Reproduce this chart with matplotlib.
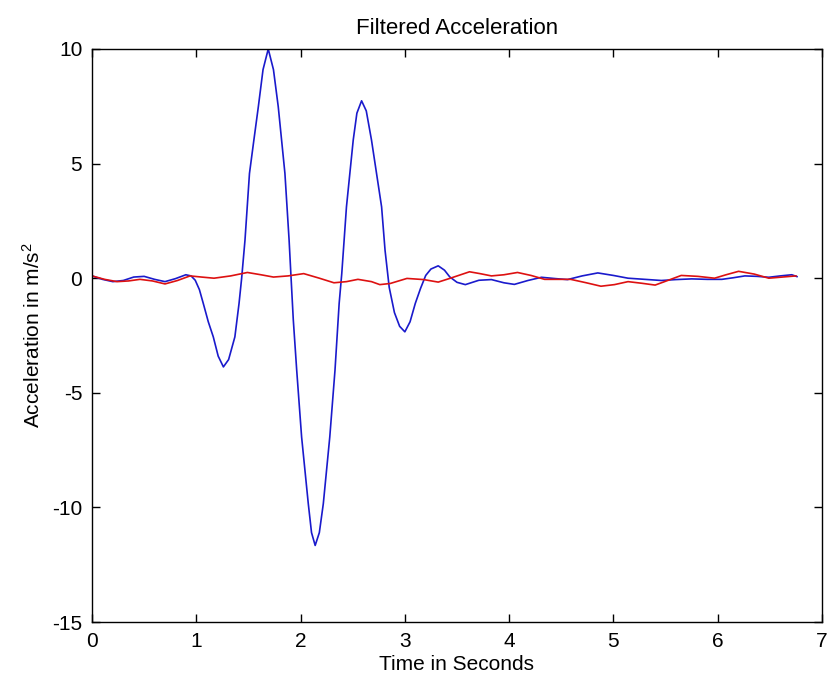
import matplotlib
matplotlib.use("Agg")
import matplotlib.pyplot as plt

# ── Data ────────────────────────────────────────────────────────────────────
t_blue = [0.00, 0.10, 0.20, 0.30, 0.40, 0.50, 0.60, 0.70, 0.80, 0.90, 0.95,
          0.99, 1.03, 1.067, 1.115, 1.163, 1.21, 1.26, 1.31, 1.37, 1.41,
          1.435, 1.467, 1.51, 1.55, 1.595, 1.64, 1.69, 1.74, 1.786, 1.85,
          1.89, 1.905, 1.93, 1.963, 2.01, 2.074, 2.105, 2.14, 2.18, 2.218,
          2.28, 2.33, 2.37, 2.395, 2.44, 2.505, 2.54, 2.585, 2.63, 2.68,
          2.777, 2.81, 2.85, 2.90, 2.95, 3.00, 3.05, 3.10, 3.15, 3.20, 3.25,
          3.32, 3.38, 3.43, 3.50, 3.58, 3.71, 3.83, 3.95, 4.05, 4.18, 4.31,
          4.45, 4.56, 4.70, 4.85, 5.00, 5.14, 5.30, 5.46, 5.60, 5.75, 5.90,
          6.04, 6.15, 6.26, 6.38, 6.49, 6.60, 6.71, 6.76]
a_blue = [0.10, -0.05, -0.15, -0.10, 0.05, 0.08, -0.05, -0.15, -0.02, 0.15, 0.10,
          -0.09, -0.50, -1.10, -1.90, -2.56, -3.40, -3.87, -3.55, -2.56, -1.10,
          0.00, 1.66, 4.57, 5.95, 7.48, 9.10, 10.00, 9.10, 7.48, 4.57,
          1.66, 0.35, -1.80, -4.02, -6.93, -9.84, -11.10, -11.66, -11.10, -9.84,
          -6.93, -4.02, -1.10, 0.20, 3.11, 6.03, 7.20, 7.74, 7.30, 6.03,
          3.11, 1.22, -0.40, -1.50, -2.10, -2.34, -1.90, -1.10, -0.45, 0.12, 0.40,
          0.54, 0.35, 0.06, -0.18, -0.28, -0.09, -0.06, -0.20, -0.27, -0.10, 0.04,
          -0.02, -0.06, 0.10, 0.23, 0.12, 0.00, -0.05, -0.10, -0.06, -0.03, -0.05,
          -0.05, 0.02, 0.10, 0.08, 0.04, 0.10, 0.15, 0.07]

t_red = [0.00, 0.12, 0.24, 0.35, 0.46, 0.58, 0.70, 0.82, 0.94, 1.05, 1.17,
         1.33, 1.49, 1.62, 1.74, 1.88, 2.03, 2.18, 2.32, 2.44, 2.55, 2.68,
         2.76, 2.86, 3.02, 3.18, 3.32, 3.43, 3.62, 3.72, 3.83, 3.95, 4.08,
         4.21, 4.34, 4.46, 4.59, 4.74, 4.88, 5.01, 5.14, 5.27, 5.40, 5.52,
         5.65, 5.81, 5.97, 6.08, 6.20, 6.35, 6.49, 6.62, 6.75]
a_red = [0.10, -0.05, -0.15, -0.12, -0.05, -0.12, -0.25, -0.10, 0.10, 0.05, 0.00,
         0.10, 0.25, 0.15, 0.05, 0.10, 0.20, 0.00, -0.20, -0.15, -0.05, -0.15,
         -0.28, -0.23, -0.01, -0.06, -0.17, -0.01, 0.28, 0.20, 0.10, 0.15, 0.25,
         0.12, -0.05, -0.05, -0.05, -0.20, -0.35, -0.28, -0.15, -0.22, -0.30, -0.10,
         0.12, 0.08, 0.00, 0.15, 0.30, 0.18, 0.00, 0.05, 0.10]

x_ticks = [0, 1, 2, 3, 4, 5, 6, 7]
y_ticks = [-15, -10, -5, 0, 5, 10]

# ── Style (MATLAB-like figure) ──────────────────────────────────────────────
plt.rcParams["font.family"] = ["Liberation Sans", "DejaVu Sans"]
plt.rcParams["mathtext.default"] = "regular"
plt.rcParams["axes.unicode_minus"] = False

fig = plt.figure(figsize=(8.27, 6.83), dpi=100)
fig.patch.set_facecolor("white")
ax = fig.add_axes([92 / 827, 61 / 683, 730 / 827, 573 / 683])

ax.plot(t_blue, a_blue, color="#1a1acc", linewidth=1.2)
ax.plot(t_red, a_red, color="#dd1111", linewidth=1.2)

ax.set_xlim(0, 7)
ax.set_ylim(-15, 10)
ax.set_xticks(x_ticks)
ax.set_yticks(y_ticks)
ax.tick_params(direction="in", length=6, width=1, top=True, right=True,
               labelsize=15, colors="black", pad=7)
for s in ax.spines.values():
    s.set_linewidth(1.0)

ax.set_xlabel("Time in Seconds", fontsize=15, labelpad=3)
ax.set_ylabel("Acceleration in m/s$^2$", fontsize=15, labelpad=6)
ax.set_title("Filtered Acceleration", fontsize=16, pad=11)

fig.savefig("out.png", dpi=100, facecolor="white")
